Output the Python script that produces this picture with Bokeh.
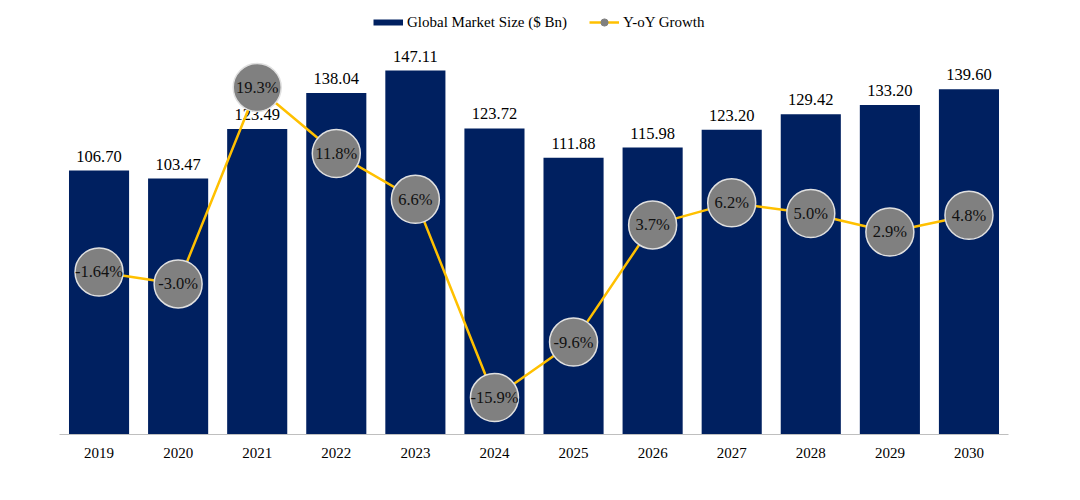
from bokeh.plotting import figure
from bokeh.models import ColumnDataSource, Range1d, FactorRange, Legend, LegendItem
from bokeh.embed import file_html
from bokeh.resources import INLINE
from bokeh.core.properties import value

years = ["2019", "2020", "2021", "2022", "2023", "2024", "2025", "2026", "2027", "2028", "2029", "2030"]
market_size = [106.70, 103.47, 123.49, 138.04, 147.11, 123.72, 111.88, 115.98, 123.20, 129.42, 133.20, 139.60]
market_labels = ["106.70", "103.47", "123.49", "138.04", "147.11", "123.72", "111.88", "115.98", "123.20", "129.42", "133.20", "139.60"]
growth = [-1.64, -3.0, 19.3, 11.8, 6.6, -15.9, -9.6, 3.7, 6.2, 5.0, 2.9, 4.8]
growth_labels = ["-1.64%", "-3.0%", "19.3%", "11.8%", "6.6%", "-15.9%", "-9.6%", "3.7%", "6.2%", "5.0%", "2.9%", "4.8%"]

NAVY = "#002060"
GOLD = "#FFC000"
GRAY = "#808080"
FONT = value("Liberation Serif")

src = ColumnDataSource(dict(x=years, size=market_size, slab=market_labels, g=growth, glab=growth_labels))

p = figure(x_range=FactorRange(*years), y_range=Range1d(0, 172.2),
           width=1064, height=484, output_backend="svg", toolbar_location=None,
           min_border_left=59, min_border_right=56, min_border_top=8, min_border_bottom=50)
p.extra_y_ranges = {"growth": Range1d(-20.09, 28.26)}
p.outline_line_color = None
p.xgrid.visible = False
p.ygrid.visible = False
p.yaxis.visible = False

p.xaxis.axis_line_color = "#BFBFBF"
p.xaxis.axis_line_width = 1
p.xaxis.major_tick_line_color = None
p.xaxis.minor_tick_line_color = None
p.xaxis.major_label_text_font = "Liberation Serif"
p.xaxis.major_label_text_font_size = "15px"
p.xaxis.major_label_text_color = "#000000"
p.xaxis.major_label_standoff = 7

p.vbar(x="x", top="size", width=0.76, source=src, fill_color=NAVY, line_color=None)
p.text(x="x", y="size", text="slab", source=src, text_align="center", text_baseline="bottom",
       y_offset=-9, text_font=FONT, text_font_size="16.5px", text_color="#000000")

p.line(x="x", y="g", source=src, line_color=GOLD, line_width=2.5, y_range_name="growth")
p.scatter(x="x", y="g", source=src, size=48, fill_color=GRAY, line_color="#E0E0E0",
          line_width=1.5, y_range_name="growth")
p.text(x="x", y="g", text="glab", source=src, text_align="center", text_baseline="middle",
       text_font=FONT, text_font_size="16.5px", text_color="#111111", y_range_name="growth")

# legend proxies (placed far outside the visible range)
proxy_x = ["2019", "2020"]
proxy_y = [-1000, -1000]
proxy = ColumnDataSource(dict(x=proxy_x, y=proxy_y))
leg_bar = p.line(x="x", y="y", source=proxy, line_color=NAVY, line_width=6)
leg_line = p.line(x="x", y="y", source=proxy, line_color=GOLD, line_width=2.5)
leg_dot = p.scatter(x="x", y="y", source=proxy, fill_color=GRAY, line_color=GRAY)

legend = Legend(items=[LegendItem(label="Global Market Size ($ Bn)", renderers=[leg_bar]),
                       LegendItem(label="Y-oY Growth", renderers=[leg_line, leg_dot])],
                location=(314, 403), orientation="horizontal",
                glyph_width=30, glyph_height=18, label_standoff=4, spacing=22,
                padding=0, margin=0, border_line_color=None, background_fill_alpha=0,
                label_text_font="Liberation Serif", label_text_font_size="15px",
                label_text_color="#000000")
p.add_layout(legend, "center")

open("out.html", "w").write(file_html(p, INLINE))
